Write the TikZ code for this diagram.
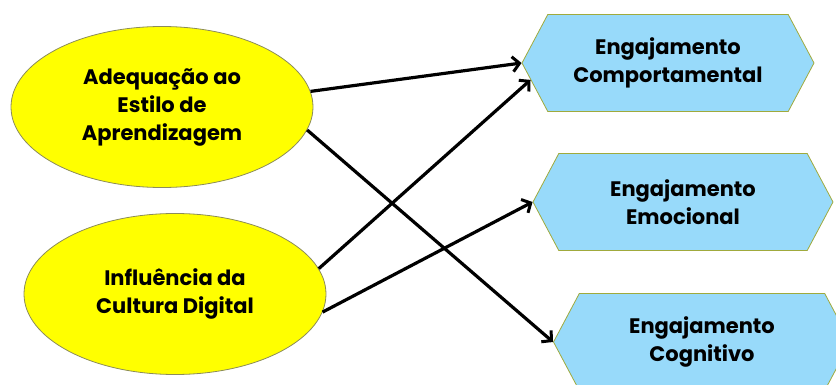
\documentclass[tikz,border=0pt]{standalone}
\usepackage{fontspec}
\setmainfont{Poppins}
\usepackage{xcolor}
\usetikzlibrary{shapes.geometric,shapes.symbols,arrows.meta}

\definecolor{ovalfill}{RGB}{255,255,0}
\definecolor{ovalline}{RGB}{140,140,90}
\definecolor{hexfill}{RGB}{152,218,250}
\definecolor{hexline}{RGB}{160,170,60}

\tikzset{
	oval/.style={ellipse, draw=ovalline, fill=ovalfill, line width=0.8pt,
		minimum width=302pt, minimum height=161pt, inner sep=0pt,
		align=center, font=\fontsize{21}{28}\selectfont\bfseries},
	hexbox/.style={signal, signal to=west and east, signal pointer angle=124,
		draw=hexline, fill=hexfill, line width=0.8pt,
		minimum width=292pt, minimum height=97pt, inner sep=0pt,
		align=center, font=\fontsize{21}{28}\selectfont\bfseries},
	link/.style={line width=3.2pt, -{Straight Barb[length=7pt,width=15pt,line width=3pt]}}
}

\begin{document}
\begin{tikzpicture}[x=1pt,y=-1pt]
			\clip (0,0) rectangle (836,385);
			\useasboundingbox (0,0) rectangle (836,385);
			\node[oval] (estilo) at (162,107) {Adequação ao\\Estilo de\\Aprendizagem};
			\node[oval] (cultura) at (175,294) {Influência da\\Cultura Digital};
			\node[hexbox] (comport) at (668,63) {Engajamento\\Comportamental};
			\node[hexbox, minimum width=300pt] (emoc) at (683,202) {Engajamento\\Emocional};
			\node[hexbox, minimum width=297pt] (cogn) at (702,342) {Engajamento\\Cognitivo};
			\draw[link] (estilo.6) -- (comport.west);
			\draw[link] (estilo.-9) -- (cogn.west);
			\draw[link] (cultura.10) -- (comport.187);
			\draw[link] (cultura.-7) -- (emoc.west);
		\end{tikzpicture}
\end{document}
